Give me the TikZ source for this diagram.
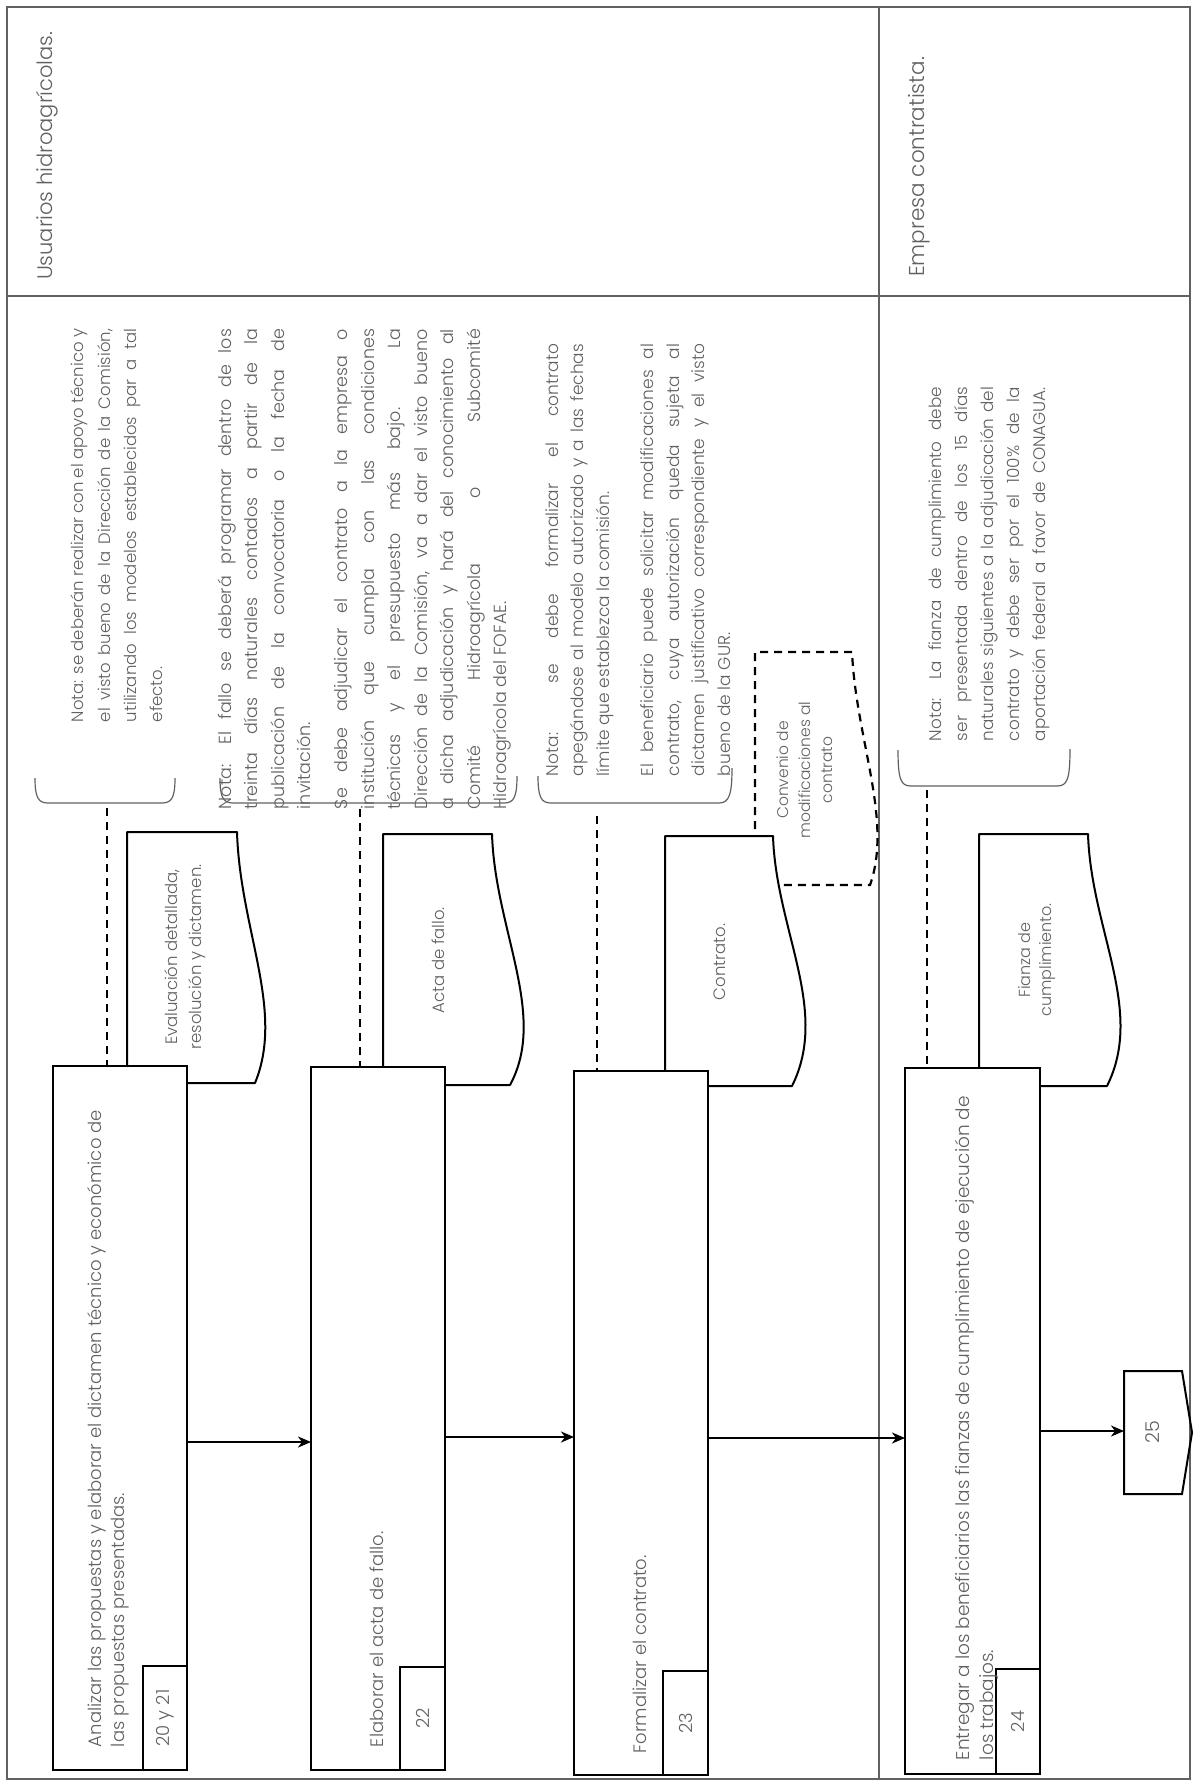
\documentclass[tikz,border=0pt]{standalone}
\usepackage{fontspec}
\usepackage{graphicx}
\IfFontExistsTF{Poppins Light}{\setmainfont{Poppins Light}}{\setmainfont{Poppins}}
\usetikzlibrary{arrows.meta,calc}
\definecolor{txt}{gray}{0.38}
\definecolor{frm}{gray}{0.38}
\newcommand{\jl}[2]{\makebox[#1][s]{#2}}
\newcommand{\fsz}[2]{\fontsize{#1}{#2}\selectfont}
\begin{document}
\begin{tikzpicture}[x=1pt,y=-1pt,
  every node/.style={inner sep=0pt,outer sep=0pt,text=txt},
  frameline/.style={draw=frm,line width=1.3pt},
  stepbox/.style={draw=black,fill=white,line width=2.2pt,rectangle},
  docline/.style={draw=black,fill=white,line width=2pt,line join=round},
  connline/.style={draw=black,line width=2pt,line join=miter},
  subbox/.style={draw=black,fill=white,line width=2pt,rectangle,rotate=90,font=\fsz{18}{20}},
  bracketline/.style={draw=frm,line width=1.2pt},
  dashline/.style={draw=black,line width=2.2pt,dash pattern=on 8pt off 6pt},
  arr/.style={draw=black,line width=2pt,-{Stealth[length=13pt,width=11pt,inset=4pt]}},
  rt/.style={rotate=90},
  para/.style={rotate=90,anchor=north west,align=left},
]
\fill[white] (0,0) rectangle (1193,1784);
\useasboundingbox (0,0) rectangle (1193,1784);

% frame and lanes
\draw[frameline] (7,7) rectangle (1190,1779);
\draw[frameline] (7,296) -- (1190,296);
\draw[frameline] (879,7) -- (879,1779);

\node[rt,anchor=west,font=\fsz{21}{24}] (lane1) at (47,280) {Usuarios hidroagrícolas.};
\node[rt,anchor=west,font=\fsz{21.5}{24}] (lane2) at (919,277) {Empresa contratista.};

% brackets
\draw[bracketline] (35,778) .. controls (35,797) and (38,803) .. (48,803) -- (162,803) .. controls (172,803) and (175,797) .. (175,778);
\draw[bracketline] (220,778) .. controls (220,797) and (223,803) .. (233,803) -- (504,803) .. controls (514,803) and (517,797) .. (517,776);
\draw[bracketline] (538,776) .. controls (538,797) and (541,803) .. (551,803) -- (719,803) .. controls (729,803) and (732,795) .. (732,768);
\draw[bracketline] (898,750) .. controls (898,780) and (901,786) .. (911,786) -- (1057,786) .. controls (1067,786) and (1070,780) .. (1070,749);

% notes
\node[para,font=\fsz{16.5}{26.3}] (nt1) at (65.5,722) {\jl{393pt}{\strut Nota: se deberán realizar con el apoyo técnico y}\\
\jl{393pt}{el visto bueno de la Dirección de la Comisión,}\\
\jl{393pt}{utilizando los modelos establecidos par a tal}\\
efecto.};

\node[para,font=\fsz{17.5}{26.5}] (nt2) at (212.7,809) {\jl{480pt}{\strut Nota: El fallo se deberá programar dentro de los}\\
\jl{480pt}{treinta días naturales contados a partir de la}\\
\jl{480pt}{publicación de la convocatoria o la fecha de}\\
invitación.\\[10.5pt]
\jl{480pt}{Se debe adjudicar el contrato a la empresa o}\\
\jl{480pt}{institución que cumpla con las condiciones}\\
\jl{480pt}{técnicas y el presupuesto más bajo. La}\\
\jl{480pt}{Dirección de la Comisión, va a dar el visto bueno}\\
\jl{480pt}{a dicha adjudicación y hará del conocimiento al}\\
\jl{480pt}{Comité Hidroagrícola o Subcomité}\\
Hidroagrícola del FOFAE.};

\node[para,font=\fsz{17}{25.5}] (nt3) at (540.2,776) {\jl{432pt}{\strut Nota: se debe formalizar el contrato}\\
\jl{432pt}{apegándose al modelo autorizado y a las fechas}\\
límite que establezca la comisión.\\[19pt]
\jl{432pt}{El beneficiario puede solicitar modificaciones al}\\
\jl{432pt}{contrato, cuya autorización queda sujeta al}\\
\jl{432pt}{dictamen justificativo correspondiente y el visto}\\
bueno de la GUR.};

\node[para,font=\fsz{16.8}{26.2}] (nt4) at (922.7,741) {\jl{354pt}{\strut Nota: La fianza de cumplimiento debe}\\
\jl{354pt}{ser presentada dentro de los 15 días}\\
\jl{354pt}{naturales siguientes a la adjudicación del}\\
\jl{354pt}{contrato y debe ser por el 100\% de la}\\
\jl{354pt}{aportación federal a favor de CONAGUA.}};

% dashed connectors from notes
\coordinate (k1) at (107,808);
\coordinate (k2) at (360,809);
\coordinate (k3) at (597,816);
\coordinate (k4) at (927,790);

% step boxes (positions)
\path (120,1418) node[minimum width=134pt,minimum height=704pt] (b1) {};
\path (378,1418.5) node[minimum width=134pt,minimum height=703pt] (b2) {};
\path (641,1423) node[minimum width=134pt,minimum height=704pt] (b3) {};
\path (972.5,1421) node[minimum width=135pt,minimum height=706pt] (b4) {};

\draw[dashline] (k1) -- (k1 |- b1.north);
\draw[dashline] (k2) -- (k2 |- b2.north);
\draw[dashline] (k3) -- (k3 |- b3.north);
\draw[dashline] (k4) -- (k4 |- b4.north);

% dashed document
\draw[dashline,fill=white] (755,885) -- (755,652) -- (852,652) .. controls (856,740) and (893,820) .. (870,885) -- cycle;
\node[rt,align=center,font=\fsz{15.5}{22}] (cvt) at (805,770) {Convenio de\\modificaciones al\\contrato};

% documents
\draw[docline] (127,1083) -- (127,832) -- (237,832) .. controls (240,930) and (285,1010) .. (255,1083) -- cycle;
\draw[docline] (383,1085) -- (383,834) -- (492,834) .. controls (495,930) and (548,1015) .. (510,1085) -- cycle;
\draw[docline] (665,1086) -- (665,836) -- (773,836) .. controls (776,930) and (830,1010) .. (792,1086) -- cycle;
\draw[docline] (979,1086) -- (979,834) -- (1088,834) .. controls (1091,930) and (1145,1010) .. (1107,1086) -- cycle;

\node[rt,align=center,font=\fsz{16.5}{24}] (d1t) at (185,957) {Evaluación detallada,\\resolución y dictamen.};
\node[rt,font=\fsz{16.5}{24}] (d2t) at (438,960) {Acta de fallo.};
\node[rt,font=\fsz{16.5}{24}] (d3t) at (720,962) {Contrato.};
\node[rt,align=center,font=\fsz{16}{21}] (d4t) at (1037.5,960) {Fianza de\\cumplimiento.};

% step boxes drawn
\draw[stepbox] (b1.north west) rectangle (b1.south east);
\draw[stepbox] (b2.north west) rectangle (b2.south east);
\draw[stepbox] (b3.north west) rectangle (b3.south east);
\draw[stepbox] (b4.north west) rectangle (b4.south east);

\node[subbox,minimum width=104pt,minimum height=44pt] (s1) at (165,1718) {20 y 21};
\node[subbox,minimum width=103pt,minimum height=45pt] (s2) at (422.5,1718.5) {22};
\node[subbox,minimum width=104pt,minimum height=45pt] (s3) at (685.5,1723) {23};
\node[subbox,minimum width=105pt,minimum height=44pt] (s4) at (1018,1721.5) {24};

\node[para,font=\fsz{18}{23}] (t1) at (85.4,1747) {\strut Analizar las propuestas y elaborar el dictamen técnico y económico de\\las propuestas presentadas.};
\node[rt,anchor=west,font=\fsz{18}{23}] (t2) at (377,1747) {Elaborar el acta de fallo.};
\node[rt,anchor=west,font=\fsz{18}{23}] (t3) at (640,1753) {Formalizar el contrato.};
\node[para,font=\fsz{18.5}{24}] (t4) at (952.9,1760) {\strut Entregar a los beneficiarios las fianzas de cumplimiento de ejecución de\\los trabajos.};

% off-page connector
\node[minimum width=58pt,minimum height=123pt] (c25) at (1153,1432.5) {\rotatebox{90}{\fsz{19}{20}25}};
\draw[connline] (c25.north west) -- (c25.north east) -- ($(c25.east)+(10,0)$) -- (c25.south east) -- (c25.south west) -- cycle;

% arrows
\coordinate (y1) at (0,1442);
\coordinate (y2) at (0,1437);
\coordinate (y3) at (0,1438);
\coordinate (y4) at (0,1431);
\draw[arr] (b1.east |- y1) -- (b2.west |- y1);
\draw[arr] (b2.east |- y2) -- (b3.west |- y2);
\draw[arr] (b3.east |- y3) -- (b4.west |- y3);
\draw[arr] (b4.east |- y4) -- (c25.west |- y4);
\end{tikzpicture}
\end{document}
